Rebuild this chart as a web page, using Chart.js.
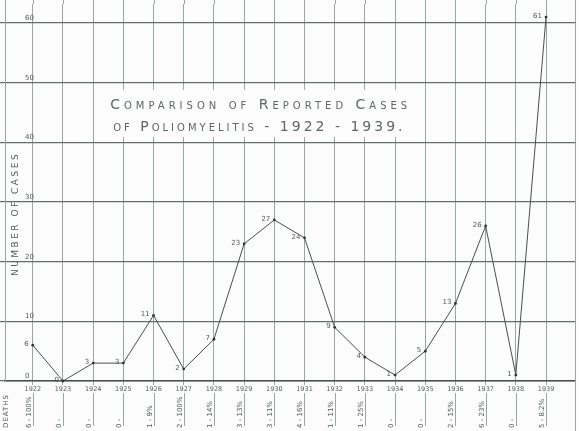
<!DOCTYPE html>
<html>
<head>
<meta charset="utf-8">
<script src="https://cdn.jsdelivr.net/npm/chart.js@4.4.1/dist/chart.umd.min.js"></script>
<style>
  html, body { margin: 0; padding: 0; background: #fbfcfb; }
  #wrap { width: 579px; height: 431px; }
</style>
</head>
<body>
<div id="wrap"><canvas id="myChart" width="579" height="431"></canvas></div>
<script>
// data
const years = [1922, 1923, 1924, 1925, 1926, 1927, 1928, 1929, 1930, 1931, 1932, 1933, 1934, 1935, 1936, 1937, 1938, 1939];
const cases = [6, 0, 3, 3, 11, 2, 7, 23, 27, 24, 9, 4, 1, 5, 13, 26, 1, 61];
const deathLabels = ['6 - 100%', '0 -', '0 -', '0 -', '1 - 9%', '2 - 100%', '1 - 14%', '3 - 13%', '3 - 11%',
    '4 - 16%', '1 - 11%', '1 - 25%', '0 -', '0 -', '2 - 15%', '6 - 23%', '0 -', '5 - 8.2%'];
const yTicks = [0, 10, 20, 30, 40, 50, 60];
const titleLines = ['Comparison of Reported Cases', 'of Poliomyelitis - 1922 - 1939.'];
const yTitle = 'NUMBER OF CASES';
const deathsTitle = 'DEATHS';

const ink = '#555b5b';
const hGrid = '#666d6d';
const vGrid = '#9aa5a5';

const paper = {
    id: 'paper',
    beforeDraw(chart) {
        const c = chart.ctx;
        c.save();
        c.fillStyle = '#fbfcfb';
        c.fillRect(0, 0, chart.width, chart.height);
        c.restore();
    },
    beforeDatasetsDraw(chart) {
        const c = chart.ctx;
        const x = chart.scales.x, y = chart.scales.y;
        const area = chart.chartArea;
        c.save();
        // vertical rules run up to the top edge of the sheet
        c.strokeStyle = vGrid;
        c.lineWidth = 1;
        years.forEach((yr) => {
            const px = Math.round(x.getPixelForValue(yr)) + 0.5;
            c.beginPath();
            c.moveTo(px, 0);
            c.lineTo(px, area.top);
            c.stroke();
        });
        c.beginPath();
        c.moveTo(area.left + 0.5, 0);
        c.lineTo(area.left + 0.5, area.top);
        c.moveTo(area.right + 0.5, 0);
        c.lineTo(area.right + 0.5, chart.height);
        c.stroke();

        // blank box behind the title
        const bx1 = x.getPixelForValue(1924) + 3, bx2 = x.getPixelForValue(1935) - 3;
        const by1 = y.getPixelForValue(48.8), by2 = y.getPixelForValue(40.9);
        c.fillStyle = '#fbfcfb';
        c.fillRect(bx1, by1, bx2 - bx1, by2 - by1);

        c.fillStyle = '#606666';
        c.font = 'small-caps 14px "DejaVu Sans"';
        c.textBaseline = 'alphabetic';
        c.textAlign = 'left';
        c.letterSpacing = '4px';
        c.fillText(titleLines[0], bx1 + 14, by1 + 19);
        c.letterSpacing = '3px';
        c.fillText(titleLines[1], bx1 + 17, by1 + 41);

        // axis title
        c.fillStyle = ink;
        c.font = '9px "DejaVu Sans"';
        c.letterSpacing = '2.5px';
        c.textAlign = 'center';
        c.textBaseline = 'middle';
        c.translate(16, y.getPixelForValue(28));
        c.rotate(-Math.PI / 2);
        c.fillText(yTitle, 0, 0);
        c.restore();
    },
    afterDatasetsDraw(chart) {
        const c = chart.ctx;
        const x = chart.scales.x;
        const pts = chart.getDatasetMeta(0).data;
        c.save();
        c.fillStyle = ink;
        c.font = '7px "DejaVu Sans"';
        c.textAlign = 'right';
        c.textBaseline = 'middle';
        pts.forEach((p, i) => {
            c.fillText(String(cases[i]), p.x - 4, p.y - 1);
        });

        // deaths row below the years
        const top = chart.chartArea.bottom + 12;
        const bottom = chart.height - 3;
        c.strokeStyle = vGrid;
        c.lineWidth = 1;
        c.font = '7px "DejaVu Sans"';
        c.textAlign = 'left';
        c.textBaseline = 'bottom';
        years.forEach((yr, i) => {
            const px = Math.round(x.getPixelForValue(yr)) + 0.5;
            c.beginPath();
            c.moveTo(px, top);
            c.lineTo(px, bottom - 2);
            c.stroke();
            c.save();
            c.translate(px - 1, bottom);
            c.rotate(-Math.PI / 2);
            c.fillText(deathLabels[i], 0, 0);
            c.restore();
        });
        c.save();
        c.font = '7px "DejaVu Sans"';
        c.letterSpacing = '1px';
        c.translate(10, bottom);
        c.rotate(-Math.PI / 2);
        c.fillText(deathsTitle, 0, 0);
        c.restore();
        c.restore();
    }
};

const chart = new Chart(document.querySelector('#myChart').getContext('2d'), {
    type: 'line',
    data: {
        datasets: [{
            data: years.map((yr, i) => ({ x: yr, y: cases[i] })),
            borderColor: '#4a4f4f',
            borderWidth: 1,
            pointRadius: 1.4,
            pointBackgroundColor: '#333',
            pointBorderWidth: 0,
            tension: 0,
            clip: false
        }]
    },
    options: {
        responsive: false,
        animation: false,
        layout: { padding: { top: 0, right: 2, left: 0, bottom: 0 } },
        plugins: {
            legend: { display: false },
            tooltip: { enabled: false }
        },
        scales: {
            x: {
                type: 'linear',
                min: 1921.08,
                max: 1939.96,
                afterBuildTicks: (s) => { s.ticks = years.map(v => ({ value: v })); },
                afterFit: (s) => { s.height = 50; s.paddingLeft = 0; s.paddingRight = 0; },
                grid: { color: vGrid, lineWidth: 1, tickLength: 4 },
                border: { color: '#4a4f4f', width: 1.6 },
                ticks: {
                    autoSkip: false,
                    maxRotation: 0,
                    padding: 0,
                    color: ink,
                    font: { family: 'DejaVu Sans', size: 6.5 },
                    callback: (v) => String(v)
                }
            },
            y: {
                min: 0,
                max: 63.2,
                afterBuildTicks: (s) => { s.ticks = yTicks.map(v => ({ value: v })); },
                afterFit: (s) => { s.width = 5; s.paddingTop = 0; s.paddingBottom = 0; },
                grid: { color: hGrid, lineWidth: 1.2, tickLength: 5 },
                border: { color: vGrid, width: 1 },
                ticks: {
                    mirror: true,
                    padding: 20,
                    labelOffset: -5,
                    color: ink,
                    font: { family: 'DejaVu Sans', size: 7 }
                }
            }
        }
    },
    plugins: [paper]
});
</script>
</body>
</html>
